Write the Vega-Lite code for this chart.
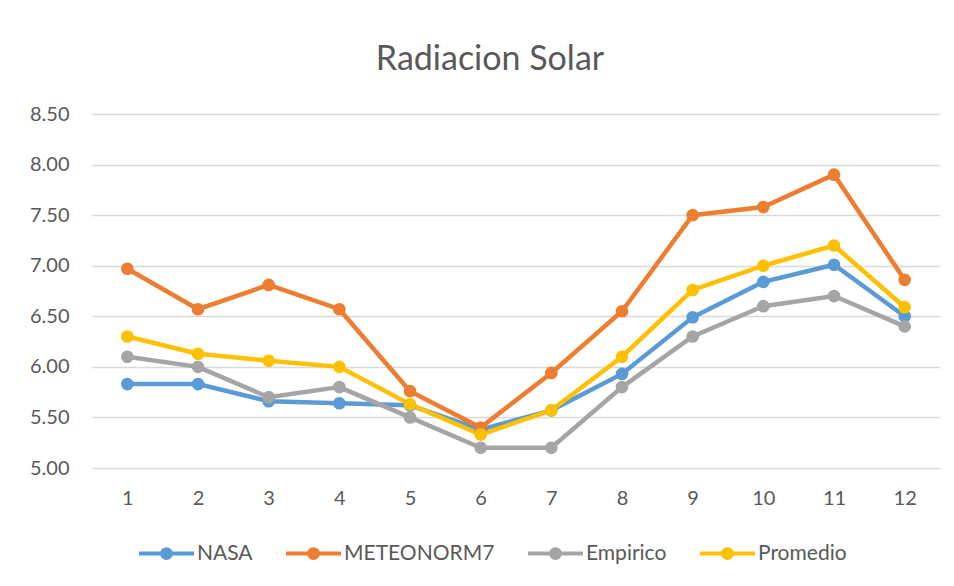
{
  "$schema": "https://vega.github.io/schema/vega-lite/v6.json",
  "width": 848,
  "height": 354,
  "autosize": {"type": "none"},
  "padding": {"left": 92, "top": 114, "right": 14, "bottom": 118},
  "background": "white",
  "title": {
    "text": "Radiacion Solar",
    "font": "Lato",
    "fontSize": 34,
    "fontWeight": "normal",
    "color": "#595959",
    "anchor": "middle",
    "frame": "group",
    "dx": -26,
    "baseline": "alphabetic",
    "offset": 0
  },
  "data": {
    "values": [
      {"mes": 1, "serie": "NASA", "valor": 5.83},
      {"mes": 2, "serie": "NASA", "valor": 5.83},
      {"mes": 3, "serie": "NASA", "valor": 5.66},
      {"mes": 4, "serie": "NASA", "valor": 5.64},
      {"mes": 5, "serie": "NASA", "valor": 5.62},
      {"mes": 6, "serie": "NASA", "valor": 5.38},
      {"mes": 7, "serie": "NASA", "valor": 5.57},
      {"mes": 8, "serie": "NASA", "valor": 5.93},
      {"mes": 9, "serie": "NASA", "valor": 6.49},
      {"mes": 10, "serie": "NASA", "valor": 6.84},
      {"mes": 11, "serie": "NASA", "valor": 7.01},
      {"mes": 12, "serie": "NASA", "valor": 6.5},
      {"mes": 1, "serie": "METEONORM7", "valor": 6.97},
      {"mes": 2, "serie": "METEONORM7", "valor": 6.57},
      {"mes": 3, "serie": "METEONORM7", "valor": 6.81},
      {"mes": 4, "serie": "METEONORM7", "valor": 6.57},
      {"mes": 5, "serie": "METEONORM7", "valor": 5.76},
      {"mes": 6, "serie": "METEONORM7", "valor": 5.4},
      {"mes": 7, "serie": "METEONORM7", "valor": 5.94},
      {"mes": 8, "serie": "METEONORM7", "valor": 6.55},
      {"mes": 9, "serie": "METEONORM7", "valor": 7.5},
      {"mes": 10, "serie": "METEONORM7", "valor": 7.58},
      {"mes": 11, "serie": "METEONORM7", "valor": 7.9},
      {"mes": 12, "serie": "METEONORM7", "valor": 6.86},
      {"mes": 1, "serie": "Empirico", "valor": 6.1},
      {"mes": 2, "serie": "Empirico", "valor": 6.0},
      {"mes": 3, "serie": "Empirico", "valor": 5.7},
      {"mes": 4, "serie": "Empirico", "valor": 5.8},
      {"mes": 5, "serie": "Empirico", "valor": 5.5},
      {"mes": 6, "serie": "Empirico", "valor": 5.2},
      {"mes": 7, "serie": "Empirico", "valor": 5.2},
      {"mes": 8, "serie": "Empirico", "valor": 5.8},
      {"mes": 9, "serie": "Empirico", "valor": 6.3},
      {"mes": 10, "serie": "Empirico", "valor": 6.6},
      {"mes": 11, "serie": "Empirico", "valor": 6.7},
      {"mes": 12, "serie": "Empirico", "valor": 6.4},
      {"mes": 1, "serie": "Promedio", "valor": 6.3},
      {"mes": 2, "serie": "Promedio", "valor": 6.13},
      {"mes": 3, "serie": "Promedio", "valor": 6.06},
      {"mes": 4, "serie": "Promedio", "valor": 6.0},
      {"mes": 5, "serie": "Promedio", "valor": 5.63},
      {"mes": 6, "serie": "Promedio", "valor": 5.33},
      {"mes": 7, "serie": "Promedio", "valor": 5.57},
      {"mes": 8, "serie": "Promedio", "valor": 6.1},
      {"mes": 9, "serie": "Promedio", "valor": 6.76},
      {"mes": 10, "serie": "Promedio", "valor": 7.0},
      {"mes": 11, "serie": "Promedio", "valor": 7.2},
      {"mes": 12, "serie": "Promedio", "valor": 6.59}
    ]
  },
  "encoding": {
    "x": {
      "field": "mes",
      "type": "ordinal",
      "scale": {"type": "point", "padding": 0.5},
      "axis": {
        "title": null,
        "labelAngle": 0,
        "ticks": false,
        "domain": false,
        "labelPadding": 20,
        "labelFont": "Lato",
        "labelFontSize": 20,
        "labelColor": "#595959"
      }
    },
    "y": {
      "field": "valor",
      "type": "quantitative",
      "scale": {"domain": [5, 8.5], "nice": false, "zero": false},
      "axis": {
        "title": null,
        "values": [5, 5.5, 6, 6.5, 7, 7.5, 8, 8.5],
        "format": ".2f",
        "ticks": false,
        "domain": false,
        "labelPadding": 23,
        "labelFont": "Lato",
        "labelFontSize": 20,
        "labelColor": "#595959",
        "gridColor": "#d9d9d9",
        "gridWidth": 1.3
      }
    },
    "color": {
      "field": "serie",
      "type": "nominal",
      "scale": {
        "domain": ["NASA", "METEONORM7", "Empirico", "Promedio"],
        "range": ["#5B9BD5", "#ED7D31", "#A5A5A5", "#FFC000"]
      },
      "legend": {
        "title": null,
        "orient": "none",
        "legendX": 45,
        "legendY": 410,
        "direction": "horizontal",
        "symbolType": "M-1,0H1M-0.16,0A0.16,0.16 0 1,0 0.16,0A0.16,0.16 0 1,0 -0.16,0Z",
        "symbolSize": 3025,
        "symbolStrokeWidth": 4,
        "labelFont": "Lato",
        "labelFontSize": 21,
        "labelColor": "#595959",
        "labelOffset": 1,
        "columnPadding": 25,
        "encode": {
          "symbols": {
            "update": {
              "fill": {"scale": "color", "field": "value"},
              "stroke": {"scale": "color", "field": "value"},
              "opacity": {"value": 1}
            }
          }
        }
      }
    }
  },
  "layer": [
    {"mark": {"type": "line", "strokeWidth": 4.5}},
    {"mark": {"type": "point", "shape": "circle", "filled": true, "size": 160, "opacity": 1}}
  ],
  "config": {
    "view": {"stroke": null}
  }
}
